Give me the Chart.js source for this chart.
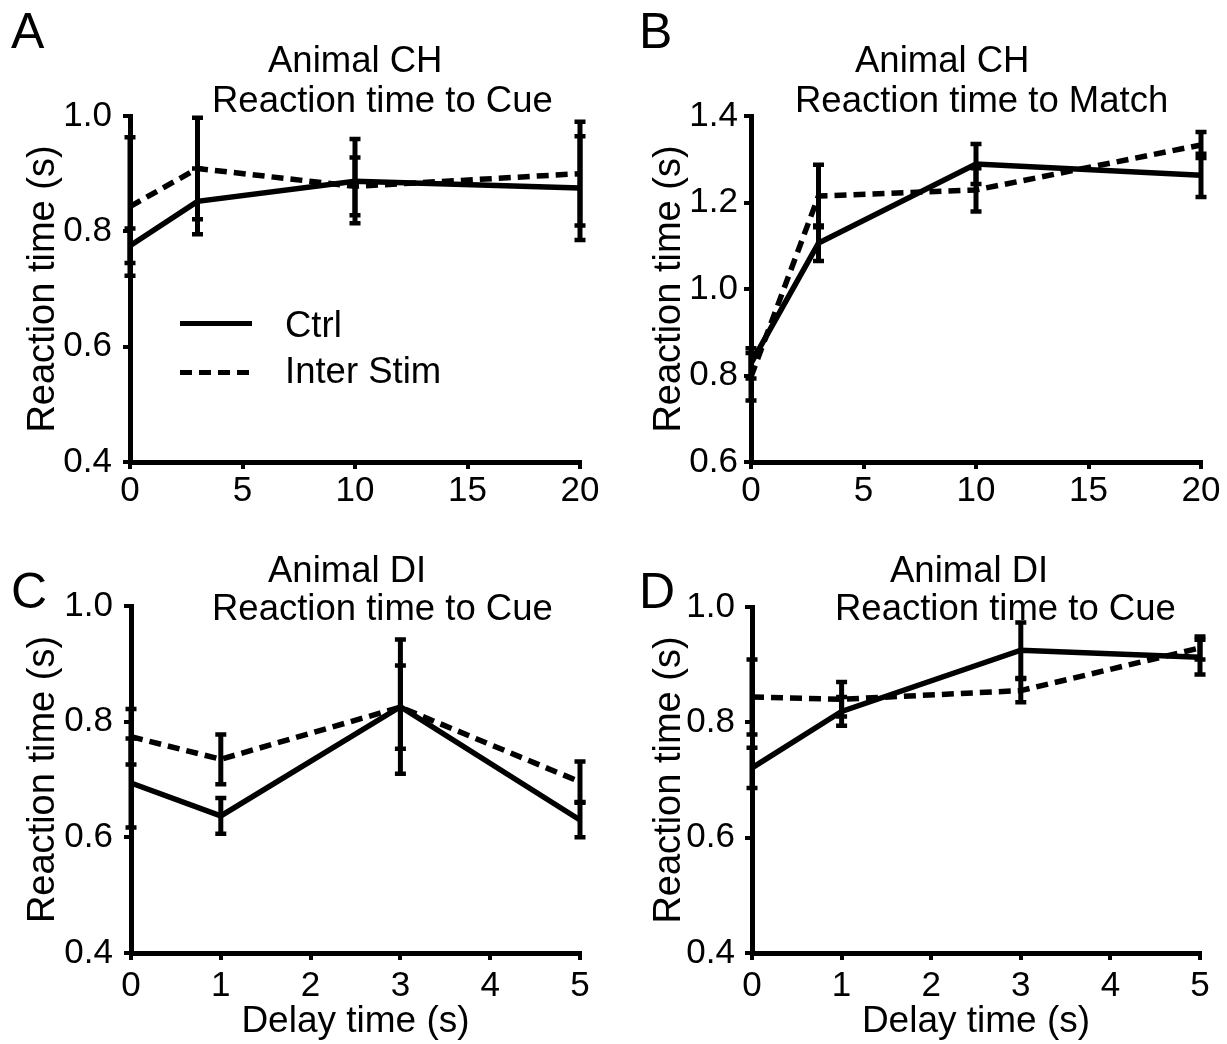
<!DOCTYPE html>
<html>
<head>
<meta charset="utf-8">
<title>Reaction time</title>
<script src="https://cdn.jsdelivr.net/npm/chart.js@4/dist/chart.umd.min.js"></script>
<style>
  body { margin: 0; background: #fff; }
  #fig { position: relative; width: 1227px; height: 1044px; font-family: "Liberation Sans", Arial, sans-serif; color: #000; }
  canvas { position: absolute; }
  .lbl { position: absolute; font-size: 50px; line-height: 50px; }
  .ttl { position: absolute; font-size: 36.5px; line-height: 40px; white-space: nowrap; }
  .key { position: absolute; height: 5px; width: 72px; }
</style>
</head>
<body>
<div id="fig">
  <canvas id="chA" width="613" height="522" style="left:0;top:0"></canvas>
  <canvas id="chB" width="614" height="522" style="left:613px;top:0"></canvas>
  <canvas id="chC" width="613" height="522" style="left:0;top:522px"></canvas>
  <canvas id="chD" width="614" height="522" style="left:613px;top:522px"></canvas>

  <div class="lbl" style="left:11px;top:6px">A</div>
  <div class="lbl" style="left:639px;top:6px">B</div>
  <div class="lbl" style="left:11px;top:566px">C</div>
  <div class="lbl" style="left:639px;top:566px">D</div>

  <div class="ttl" style="left:268px;top:40px">Animal CH</div>
  <div class="ttl" style="left:212px;top:80px">Reaction time to Cue</div>
  <div class="ttl" style="left:855px;top:40px">Animal CH</div>
  <div class="ttl" style="left:795px;top:80px">Reaction time to Match</div>
  <div class="ttl" style="left:268px;top:550px">Animal DI</div>
  <div class="ttl" style="left:212px;top:588px">Reaction time to Cue</div>
  <div class="ttl" style="left:890px;top:550px">Animal DI</div>
  <div class="ttl" style="left:835px;top:588px">Reaction time to Cue</div>

  <div class="key" style="left:180px;top:321px;background:#000"></div>
  <div class="ttl" style="left:285px;top:305px">Ctrl</div>
  <div class="key" style="left:180px;top:370px;background:repeating-linear-gradient(to right,#000 0 12px,transparent 12px 19px)"></div>
  <div class="ttl" style="left:285px;top:351px">Inter Stim</div>
</div>

<script>
// delays (s)
const delayCH = [0, 3, 10, 20];
const delayDI = [0, 1, 3, 5];

// A - animal CH, reaction time to cue
const cueCH_ctrl = [0.775, 0.852, 0.887, 0.875];
const cueCH_ctrlErr = [0.03, 0.057, 0.073, 0.09];
const cueCH_stim = [0.843, 0.909, 0.878, 0.900];
const cueCH_stimErr = [0.12, 0.088, 0.05, 0.09];

// B - animal CH, reaction time to match
const matchCH_ctrl = [0.828, 1.106, 1.289, 1.263];
const matchCH_ctrlErr = [0.035, 0.041, 0.046, 0.05];
const matchCH_stim = [0.797, 1.215, 1.229, 1.333];
const matchCH_stimErr = [0.055, 0.072, 0.05, 0.03];

// C - animal DI, reaction time to cue
const cueDI_ctrl = [0.694, 0.637, 0.826, 0.630];
const cueDI_ctrlErr = [0.077, 0.031, 0.116, 0.03];
const cueDI_stim = [0.774, 0.735, 0.825, 0.696];
const cueDI_stimErr = [0.048, 0.043, 0.072, 0.035];

// D - animal DI, reaction time to cue
const cueDI2_ctrl = [0.721, 0.819, 0.925, 0.913];
const cueDI2_ctrlErr = [0.035, 0.025, 0.048, 0.03];
const cueDI2_stim = [0.844, 0.840, 0.855, 0.929];
const cueDI2_stimErr = [0.065, 0.03, 0.02, 0.02];

Chart.defaults.font.family = '"Liberation Sans", Arial, sans-serif';
Chart.defaults.color = '#000';

// vertical error bars with caps, drawn on top of the lines
const errorBars = {
    id: 'errorBars',
    afterDatasetsDraw(chart) {
        var ctx = chart.ctx;
        var sx = chart.scales.x;
        var sy = chart.scales.y;
        ctx.save();
        ctx.strokeStyle = '#000';
        chart.data.datasets.forEach(function (ds) {
            for (var i = 0; i < ds.data.length; i++) {
                var p = ds.data[i];
                var e = ds.errors[i];
                var x = sx.getPixelForValue(p.x);
                var t = sy.getPixelForValue(p.y + e);
                var b = sy.getPixelForValue(p.y - e);
                ctx.lineWidth = 5;
                ctx.beginPath();
                ctx.moveTo(x, t); ctx.lineTo(x, b);
                ctx.stroke();
                ctx.lineWidth = 4.5;
                ctx.beginPath();
                ctx.moveTo(x - 5.5, t); ctx.lineTo(x + 5.5, t);
                ctx.moveTo(x - 5.5, b); ctx.lineTo(x + 5.5, b);
                ctx.stroke();
            }
        });
        ctx.restore();
    }
};

function points(xs, ys) {
    var out = [];
    for (var i = 0; i < xs.length; i++) out.push({ x: xs[i], y: ys[i] });
    return out;
}

function panel(id, xs, ctrl, ctrlErr, stim, stimErr, o) {
    new Chart(document.getElementById(id), {
        type: 'line',
        data: {
            datasets: [{
                label: 'Ctrl',
                data: points(xs, ctrl),
                errors: ctrlErr,
                borderColor: '#000',
                borderWidth: 5.5,
                pointRadius: 0,
                tension: 0,
                clip: false
            }, {
                label: 'Inter Stim',
                data: points(xs, stim),
                errors: stimErr,
                borderColor: '#000',
                borderWidth: 5.5,
                borderDash: [12, 7],
                pointRadius: 0,
                tension: 0,
                clip: false
            }]
        },
        options: {
            responsive: false,
            animation: false,
            events: [],
            layout: { padding: { left: 0, top: o.top, right: o.right, bottom: 0 } },
            plugins: { legend: { display: false }, tooltip: { enabled: false } },
            scales: {
                x: {
                    type: 'linear',
                    min: 0,
                    max: o.xMax,
                    ticks: { stepSize: o.xStep, font: { size: 35 }, padding: o.xPad, maxRotation: 0, autoSkip: false },
                    grid: { drawOnChartArea: false, color: '#000', lineWidth: 4, tickLength: 7 },
                    border: { color: '#000', width: 5 },
                    title: { display: o.xTitle, text: 'Delay time (s)', font: { size: 37 }, padding: { top: 0, bottom: 0 } },
                    afterFit: function (s) { s.height = o.xH; }
                },
                y: {
                    min: o.yMin,
                    max: o.yMax,
                    ticks: {
                        stepSize: 0.2,
                        font: { size: 35 },
                        padding: o.yPad,
                        callback: function (v) { return v.toFixed(1); }
                    },
                    grid: { drawOnChartArea: false, color: '#000', lineWidth: 4, tickLength: 7 },
                    border: { color: '#000', width: 5 },
                    title: { display: true, text: 'Reaction time (s)', font: { size: 38 }, padding: { top: o.yTitle, bottom: 0 } },
                    afterFit: function (s) { s.width = o.yW; }
                }
            }
        },
        plugins: [errorBars]
    });
}

panel('chA', delayCH, cueCH_ctrl, cueCH_ctrlErr, cueCH_stim, cueCH_stimErr,
    { top: 116, right: 33, xH: 60, yW: 130, xMax: 20, xStep: 5, xPad: 1, yPad: 11, yMin: 0.4, yMax: 1.0, yTitle: 21, xTitle: false });
panel('chB', delayCH, matchCH_ctrl, matchCH_ctrlErr, matchCH_stim, matchCH_stimErr,
    { top: 116, right: 26, xH: 60, yW: 138, xMax: 20, xStep: 5, xPad: 1, yPad: 6, yMin: 0.6, yMax: 1.4, yTitle: 34, xTitle: false });
panel('chC', delayDI, cueDI_ctrl, cueDI_ctrlErr, cueDI_stim, cueDI_stimErr,
    { top: 84, right: 33, xH: 91, yW: 131, xMax: 5, xStep: 1, xPad: 5, yPad: 11, yMin: 0.4, yMax: 1.0, yTitle: 21, xTitle: true });
panel('chD', delayDI, cueDI2_ctrl, cueDI2_ctrlErr, cueDI2_stim, cueDI2_stimErr,
    { top: 85, right: 27, xH: 91, yW: 139, xMax: 5, xStep: 1, xPad: 5, yPad: 10, yMin: 0.4, yMax: 1.0, yTitle: 34, xTitle: true });
</script>
</body>
</html>
